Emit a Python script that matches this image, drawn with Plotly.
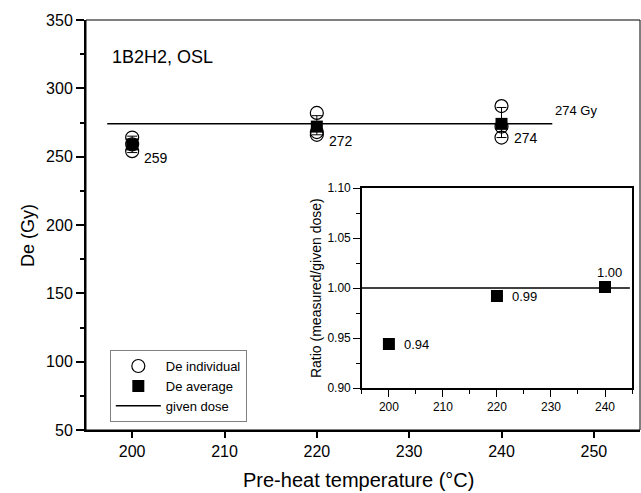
import plotly.graph_objects as go

# ---------------- data ----------------
temps = [200, 220, 240]
ind_temps = [200, 200, 200, 220, 220, 220, 240, 240, 240]
ind_de = [264, 259, 254, 282, 268, 266, 287, 272, 264]
avg_de = [259, 272, 274]
avg_err_plus = [6, 8, 12]
avg_err_minus = [6, 6, 10]
avg_labels = ["259", "272", "274"]
given_dose = 274
given_x = [197.3, 245.5]
given_label = "274 Gy"

ratio = [0.944, 0.992, 1.001]
ratio_labels = ["0.94", "0.99", "1.00"]
ratio_ref = 1.00
ratio_line_x = [195, 244.6]

FONT = "Liberation Sans, Arial, sans-serif"

fig = go.Figure()

fig.add_trace(go.Scatter(
    x=ind_temps, y=ind_de, mode="markers", name="De individual",
    marker=dict(symbol="circle-open", size=13, color="black", line=dict(width=1.2)),
    xaxis="x", yaxis="y"))
fig.add_trace(go.Scatter(
    x=temps, y=avg_de, mode="markers", name="De average",
    marker=dict(symbol="square", size=12, color="black"),
    error_y=dict(type="data", array=avg_err_plus, arrayminus=avg_err_minus,
                 color="black", thickness=1, width=5),
    xaxis="x", yaxis="y"))
fig.add_trace(go.Scatter(
    x=given_x, y=[given_dose, given_dose], mode="lines", name="given dose",
    line=dict(color="black", width=1.5), xaxis="x", yaxis="y"))

# inset
fig.add_trace(go.Scatter(
    x=ratio_line_x, y=[ratio_ref, ratio_ref], mode="lines", showlegend=False,
    line=dict(color="black", width=1.5), xaxis="x2", yaxis="y2"))
fig.add_trace(go.Scatter(
    x=temps, y=ratio, mode="markers", showlegend=False,
    marker=dict(symbol="square", size=12, color="black"),
    xaxis="x2", yaxis="y2"))

annotations = []
for t, v, lab in zip(temps, avg_de, avg_labels):
    annotations.append(dict(x=t, y=v, xref="x", yref="y", text=lab, showarrow=False,
                            xanchor="left", yanchor="middle", xshift=10, yshift=-14,
                            font=dict(size=14, color="black", family=FONT)))
annotations.append(dict(x=given_x[1], y=given_dose, xref="x", yref="y", text=given_label,
                        showarrow=False, xanchor="left", yanchor="middle", xshift=1, yshift=13,
                        font=dict(size=13, color="black", family=FONT)))
annotations.append(dict(x=0.043, y=0.91, xref="paper", yref="paper", text="1B2H2, OSL",
                        showarrow=False, xanchor="left", yanchor="middle",
                        font=dict(size=18, color="black", family=FONT)))
for i, (t, v, lab) in enumerate(zip(temps, ratio, ratio_labels)):
    if i == len(temps) - 1:
        annotations.append(dict(x=t, y=v, xref="x2", yref="y2", text=lab, showarrow=False,
                                xanchor="center", yanchor="middle", xshift=4, yshift=15,
                                font=dict(size=13, color="black", family=FONT)))
    else:
        annotations.append(dict(x=t, y=v, xref="x2", yref="y2", text=lab, showarrow=False,
                                xanchor="left", yanchor="middle", xshift=13,
                                font=dict(size=13, color="black", family=FONT)))

# axis titles as annotations
annotations.append(dict(x=0.491, y=-0.122, xref="paper", yref="paper",
                        text="Pre-heat temperature (°C)", showarrow=False,
                        xanchor="center", yanchor="middle",
                        font=dict(size=20, color="black", family=FONT)))
annotations.append(dict(x=-0.1047, y=0.4756, xref="paper", yref="paper",
                        text="De (Gy)", showarrow=False, textangle=-90,
                        xanchor="center", yanchor="middle",
                        font=dict(size=18, color="black", family=FONT)))
annotations.append(dict(x=0.415, y=0.346, xref="paper", yref="paper",
                        text="Ratio (measured/given dose)", showarrow=False, textangle=-90,
                        xanchor="center", yanchor="middle",
                        font=dict(size=14, color="black", family=FONT)))

fig.update_layout(
    width=641, height=493,
    margin=dict(l=86, r=1, t=20, b=63),
    paper_bgcolor="white", plot_bgcolor="white",
    font=dict(family=FONT, color="black"),
    showlegend=True,
    legend=dict(x=0.043, y=0.195, xanchor="left", yanchor="top",
                bordercolor="#808080", borderwidth=1, bgcolor="white",
                font=dict(size=13, family=FONT, color="black"),
                tracegroupgap=0, itemwidth=45),
    annotations=annotations,
    xaxis=dict(domain=[0, 1], range=[195, 255], tickvals=[200, 210, 220, 230, 240, 250],
               ticks="outside", ticklen=6, tickwidth=1.5, tickcolor="black",
               showline=True, linewidth=2, linecolor="black", showgrid=False, zeroline=False,
               tickfont=dict(size=16, family=FONT), automargin=False),
    yaxis=dict(domain=[0, 1], range=[50, 350], dtick=50, tick0=50,
               ticks="outside", ticklen=8, tickwidth=1.5, tickcolor="black",
               minor=dict(dtick=25, tick0=50, ticks="outside", ticklen=4, tickcolor="black",
                          tickwidth=1.5, showgrid=False),
               showline=True, linewidth=2, linecolor="black", showgrid=False, zeroline=False,
               tickfont=dict(size=16, family=FONT), automargin=False),
    xaxis2=dict(domain=[0.498, 0.9856], anchor="y2", range=[195, 245],
                tickvals=[200, 210, 220, 230, 240],
                ticks="outside", ticklen=7, tickwidth=1.2, tickcolor="black",
                minor=dict(dtick=5, tick0=195, ticks="outside", ticklen=4, tickcolor="black",
                           tickwidth=1.2, showgrid=False),
                showline=True, mirror=True, linewidth=1.5, linecolor="black",
                showgrid=False, zeroline=False, tickfont=dict(size=12, family=FONT),
                automargin=False),
    yaxis2=dict(domain=[0.1024, 0.5902], anchor="x2", range=[0.90, 1.10],
                tickvals=[0.90, 0.95, 1.00, 1.05, 1.10], tickformat=".2f",
                ticks="outside", ticklen=7, tickwidth=1.2, tickcolor="black",
                minor=dict(dtick=0.025, tick0=0.9, ticks="outside", ticklen=4, tickcolor="black",
                           tickwidth=1.2, showgrid=False),
                showline=True, mirror=True, linewidth=1.5, linecolor="black",
                showgrid=False, zeroline=False, tickfont=dict(size=12, family=FONT),
                automargin=False),
    shapes=[dict(type="rect", xref="x domain", yref="y domain", x0=0, x1=1, y0=0, y1=1,
                 line=dict(color="black", width=1), layer="above")],
)

fig.write_html("out.html", config={"displayModeBar": False},
               post_script="document.body.style.margin='0';document.body.style.overflow='hidden';")
